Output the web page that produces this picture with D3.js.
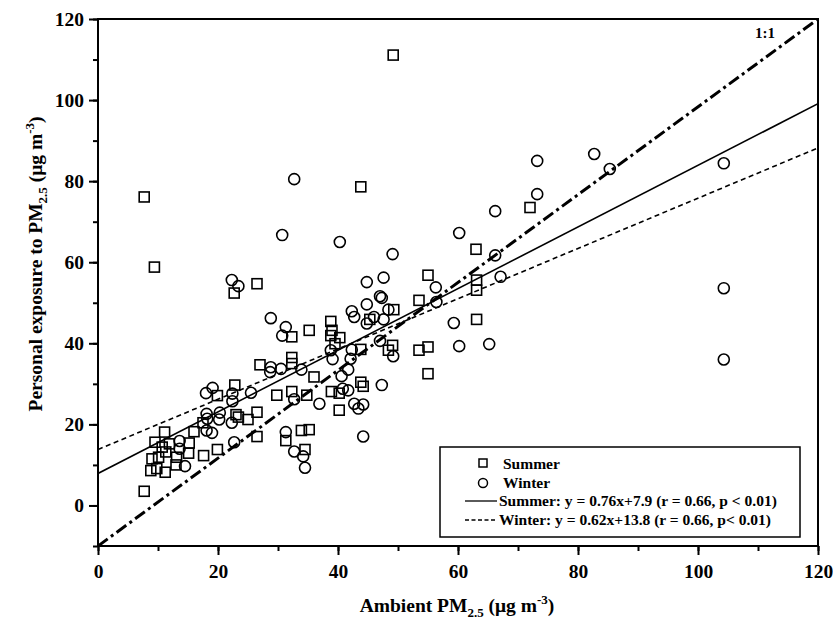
<!DOCTYPE html>
<html>
<head>
<meta charset="utf-8">
<script src="https://cdn.jsdelivr.net/npm/d3@7"></script>
<style>
  body { margin: 0; background: #fff; }
  text { font-family: "Liberation Serif", "Times New Roman", serif; font-weight: bold; fill: #000; }
</style>
</head>
<body>
<div id="chart"></div>
<script>
// Summer (squares)
var summer_x = [7.7,9.4,43.8,49.2,63.0,72.0,55.0,63.1,63.1,53.5,63.1,53.5,55.0,55.0,49.3,45.3,38.8,35.2,39.0,38.8,40.3,39.5,43.8,49.1,48.4,36.0,34.8,38.9,40.2,43.8,44.2,40.2,33.9,35.2,34.5,22.7,26.5,32.3,27.0,32.3,32.3,19.9,22.8,29.8,32.3,23.0,23.4,25.0,26.5,26.5,31.3,19.9,17.5,16.0,11.1,9.5,10.7,15.2,11.9,9.0,10.1,11.3,13.1,15.1,13.0,8.8,9.8,11.2,17.6,7.7];
var summer_y = [76.1,58.8,78.6,111.1,63.2,73.5,56.8,55.6,53.1,50.6,45.9,38.3,39.1,32.5,48.3,45.9,45.4,43.2,43.2,41.9,41.4,39.9,38.5,39.5,38.3,31.7,27.2,28.1,27.7,30.4,29.4,23.5,18.5,18.7,13.8,52.4,54.7,41.6,34.7,36.5,35.0,27.1,29.7,27.2,28.1,22.4,21.8,21.2,23.0,17.0,16.0,13.8,20.4,18.2,18.1,15.6,14.4,15.4,15.2,11.5,11.9,13.2,11.9,12.9,10.0,8.6,9.1,8.2,12.3,3.5];

// Winter (circles)
var winter_x = [32.7,30.7,40.3,49.1,60.2,66.2,66.2,104.3,104.3,104.3,82.7,85.3,73.2,73.2,56.3,67.1,56.4,59.3,60.2,65.2,44.8,47.6,47.0,47.3,44.8,42.3,42.7,48.4,46.0,47.6,44.8,38.8,39.1,42.3,42.1,47.0,49.2,41.7,40.6,40.8,41.7,47.3,42.7,43.4,44.2,44.2,33.9,36.9,22.3,23.4,28.8,31.3,30.7,28.8,28.7,30.5,18.0,19.1,22.4,22.4,25.5,32.7,18.1,18.2,20.3,20.2,22.3,18.1,19.0,22.7,31.3,32.7,34.2,34.5,13.6,13.6,14.5];
var winter_y = [80.5,66.7,65.0,62.0,67.2,72.6,61.7,84.4,53.6,36.0,86.7,83.0,85.0,76.8,53.8,56.4,50.2,45.0,39.3,39.8,55.1,56.2,51.6,51.2,49.6,47.9,46.5,48.3,46.5,45.9,44.9,38.3,36.1,38.4,36.2,40.6,36.8,33.5,31.9,28.8,28.4,29.7,25.1,23.9,24.9,17.0,33.5,25.1,55.6,54.1,46.2,44.0,41.9,34.1,32.9,33.7,27.7,29.0,27.6,25.7,27.8,26.2,22.6,21.4,22.9,21.2,20.4,18.5,17.9,15.6,18.1,13.3,12.1,9.3,15.9,14.0,9.7];

// Fits: y = a*x + b
var fit_names      = ['Summer', 'Winter'];
var fit_slope      = [0.76, 0.62];
var fit_intercept  = [7.9, 13.8];
var fit_labels     = ['Summer: y = 0.76x+7.9 (r = 0.66, p < 0.01)', 'Winter: y = 0.62x+13.8 (r = 0.66, p< 0.01)'];

// reference line (drawn corner to corner)
var ref_x = [0, 120];
var ref_y = [-10, 120];

var x_ticks = [0, 20, 40, 60, 80, 100, 120];
var y_ticks = [0, 20, 40, 60, 80, 100, 120];

var chart_width  = 833;
var chart_height = 631;
var m = { left: 98, right: 15, top: 19, bottom: 85 };

var svg = d3.select('#chart')
    .append('svg')
    .attr('width', chart_width)
    .attr('height', chart_height);

var x_scale = d3.scaleLinear().domain([0, 120]).range([m.left, chart_width - m.right]);
var y_scale = d3.scaleLinear().domain([-10, 120]).range([chart_height - m.bottom, m.top]);

// Axes (minor ticks first, then major)
var x_minor = d3.axisBottom(x_scale).tickValues(d3.range(0, 121, 10)).tickSize(5).tickFormat('');
var y_minor = d3.axisLeft(y_scale).tickValues(d3.range(-10, 121, 10)).tickSize(5).tickFormat('');
var x_axis  = d3.axisBottom(x_scale).tickValues(x_ticks).tickSize(9).tickPadding(9).tickFormat(d3.format('d'));
var y_axis  = d3.axisLeft(y_scale).tickValues(y_ticks).tickSize(9).tickPadding(5).tickFormat(d3.format('d'));

var gx0 = svg.append('g').attr('transform', 'translate(0,' + y_scale(-10) + ')').call(x_minor);
var gy0 = svg.append('g').attr('transform', 'translate(' + x_scale(0) + ',0)').call(y_minor);
var gx = svg.append('g').attr('transform', 'translate(0,' + y_scale(-10) + ')').call(x_axis);
var gy = svg.append('g').attr('transform', 'translate(' + x_scale(0) + ',0)').call(y_axis);

[gx0, gy0, gx, gy].forEach(function(g){
    g.select('.domain').remove();
    g.selectAll('line').attr('stroke', '#000').attr('stroke-width', 2);
});
[gx, gy].forEach(function(g){
    g.selectAll('text')
        .attr('font-size', 19.5)
        .style('font-family', '"Liberation Serif", serif')
        .style('font-weight', 'bold');
});

// Frame
svg.append('rect')
    .attr('x', x_scale(0))
    .attr('y', y_scale(120))
    .attr('width', x_scale(120) - x_scale(0))
    .attr('height', y_scale(-10) - y_scale(120))
    .attr('fill', 'none')
    .attr('stroke', '#000')
    .attr('stroke-width', 2);

// clip
svg.append('clipPath').attr('id', 'clip')
    .append('rect')
    .attr('x', x_scale(0)).attr('y', y_scale(120))
    .attr('width', x_scale(120) - x_scale(0))
    .attr('height', y_scale(-10) - y_scale(120));

var plot = svg.append('g').attr('clip-path', 'url(#clip)');

// 1:1 line
plot.append('line')
    .attr('x1', x_scale(ref_x[0])).attr('y1', y_scale(ref_y[0]))
    .attr('x2', x_scale(ref_x[1])).attr('y2', y_scale(ref_y[1]))
    .attr('stroke', '#000')
    .attr('stroke-width', 3)
    .attr('stroke-dasharray', '12,4,3,4');

svg.append('text')
    .attr('x', 765).attr('y', 38)
    .attr('font-size', 15)
    .attr('text-anchor', 'middle')
    .text('1:1');

// Fit lines
var fit_dash = [null, '5,3.5'];
fit_slope.forEach(function(a, i){
    plot.append('line')
        .attr('x1', x_scale(0)).attr('y1', y_scale(fit_intercept[i]))
        .attr('x2', x_scale(120)).attr('y2', y_scale(a * 120 + fit_intercept[i]))
        .attr('stroke', '#000')
        .attr('stroke-width', 1.6)
        .attr('stroke-dasharray', fit_dash[i]);
});

// Squares
var sq = 10;
plot.selectAll('rect.summer')
    .data(d3.range(summer_x.length))
    .enter()
    .append('rect')
    .attr('class', 'summer')
    .attr('x', function(i){ return x_scale(summer_x[i]) - sq / 2; })
    .attr('y', function(i){ return y_scale(summer_y[i]) - sq / 2; })
    .attr('width', sq)
    .attr('height', sq)
    .attr('fill', 'none')
    .attr('stroke', '#000')
    .attr('stroke-width', 1.6);

// Circles
plot.selectAll('circle.winter')
    .data(d3.range(winter_x.length))
    .enter()
    .append('circle')
    .attr('class', 'winter')
    .attr('cx', function(i){ return x_scale(winter_x[i]); })
    .attr('cy', function(i){ return y_scale(winter_y[i]); })
    .attr('r', 5.5)
    .attr('fill', 'none')
    .attr('stroke', '#000')
    .attr('stroke-width', 1.6);

// Legend
var lg = svg.append('g');
lg.append('rect')
    .attr('x', 440).attr('y', 447)
    .attr('width', 360).attr('height', 90)
    .attr('fill', '#fff')
    .attr('stroke', '#000')
    .attr('stroke-width', 1.5);

lg.append('rect')
    .attr('x', 479).attr('y', 459).attr('width', 8).attr('height', 8)
    .attr('fill', 'none').attr('stroke', '#000').attr('stroke-width', 1.5);
lg.append('text').attr('x', 503).attr('y', 469).attr('font-size', 15.5).text('Summer');

lg.append('circle')
    .attr('cx', 483).attr('cy', 483).attr('r', 4.5)
    .attr('fill', 'none').attr('stroke', '#000').attr('stroke-width', 1.5);
lg.append('text').attr('x', 503).attr('y', 488).attr('font-size', 15.5).text('Winter');

fit_labels.forEach(function(t, i){
    var yy = 501 + i * 19;
    lg.append('line')
        .attr('x1', 465).attr('x2', 497)
        .attr('y1', yy).attr('y2', yy)
        .attr('stroke', '#000')
        .attr('stroke-width', 1.3)
        .attr('stroke-dasharray', fit_dash[i] ? '4,2.5' : null);
    lg.append('text').attr('x', 499).attr('y', yy + 5).attr('font-size', 15.5).text(t);
});

// Axis titles
var xt = svg.append('text')
    .attr('x', 457).attr('y', 612)
    .attr('text-anchor', 'middle')
    .attr('font-size', 19.5);
xt.append('tspan').text('Ambient PM');
xt.append('tspan').attr('font-size', 13).attr('dy', 5).text('2.5');
xt.append('tspan').attr('dy', -5).text(' (μg m');
xt.append('tspan').attr('font-size', 13).attr('dy', -8).text('-3');
xt.append('tspan').attr('dy', 8).text(')');

var yt = svg.append('text')
    .attr('transform', 'translate(42,264) rotate(-90)')
    .attr('text-anchor', 'middle')
    .attr('font-size', 19.5);
yt.append('tspan').text('Personal exposure to PM');
yt.append('tspan').attr('font-size', 13).attr('dy', 5).text('2.5');
yt.append('tspan').attr('dy', -5).text(' (μg m');
yt.append('tspan').attr('font-size', 13).attr('dy', -8).text('-3');
yt.append('tspan').attr('dy', 8).text(')');
</script>
</body>
</html>
